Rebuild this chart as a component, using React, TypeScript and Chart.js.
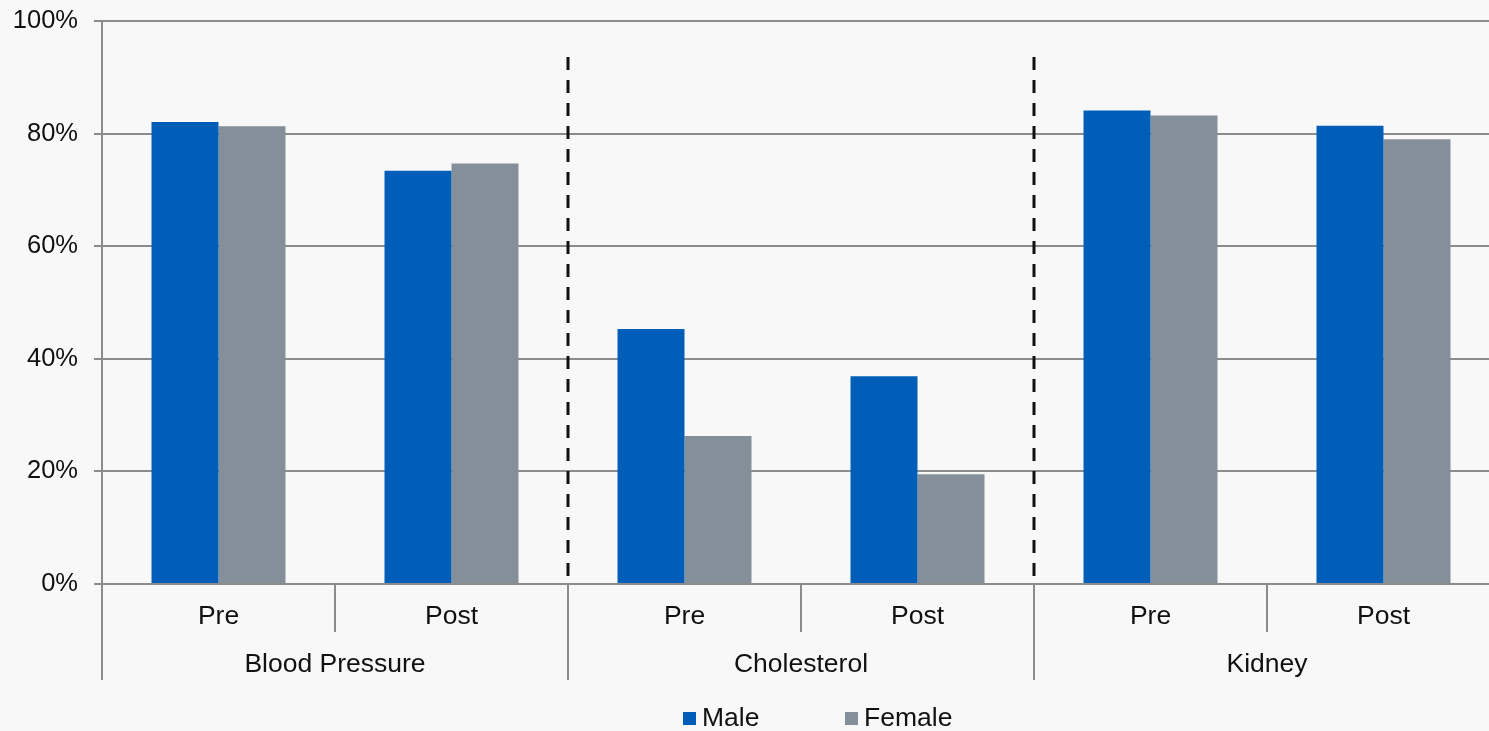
import React, { useEffect, useRef } from "react";
import { Chart, registerables } from "chart.js";

Chart.register(...registerables);

const categories = ["Pre", "Post", "Pre", "Post", "Pre", "Post"];
const groups = ["Blood Pressure", "Cholesterol", "Kidney"];
const maleValues = [82.05, 73.4, 45.3, 36.9, 84.1, 81.4];
const femaleValues = [81.3, 74.7, 26.3, 19.5, 83.2, 79.0];
const seriesNames = ["Male", "Female"];
const yTicks = [0, 20, 40, 60, 80, 100];

const FONT = "'Liberation Sans', Arial, sans-serif";
const TEXT = "#111111";
const AXIS = "#8c8c8c";
const BLUE = "#005EB8";
const GRAY = "#848F9A";

const overlayPlugin = {
  id: "overlay",
  afterDatasetsDraw(chart: any) {
    const { ctx, chartArea } = chart;
    const x = chart.scales.x;
    const n = categories.length;
    const px = (i: number) => x.getPixelForValue(i);
    const half = (px(1) - px(0)) / 2;
    const bottom = chartArea.bottom;
    ctx.save();

    // category labels
    ctx.fillStyle = TEXT;
    ctx.font = `26.5px ${FONT}`;
    ctx.textAlign = "center";
    ctx.textBaseline = "middle";
    categories.forEach((c, i) => ctx.fillText(c, px(i), bottom + 33));

    // group labels
    groups.forEach((g, gi) => {
      const cx = (px(gi * 2) + px(gi * 2 + 1)) / 2;
      ctx.fillText(g, cx, bottom + 81);
    });

    // separators
    ctx.strokeStyle = AXIS;
    ctx.lineWidth = 2;
    for (let i = 0; i < n; i++) {
      const bx = i === 0 ? chartArea.left : px(i - 1) + half;
      const isGroup = i % 2 === 0;
      ctx.beginPath();
      ctx.moveTo(bx, bottom);
      ctx.lineTo(bx, bottom + (isGroup ? 96 : 48));
      ctx.stroke();
    }

    // dashed group dividers
    const yS = chart.scales.y;
    ctx.strokeStyle = "#111111";
    ctx.lineWidth = 3;
    ctx.setLineDash([13, 10]);
    for (let gi = 1; gi < groups.length; gi++) {
      const bx = px(gi * 2 - 1) + half;
      ctx.beginPath();
      ctx.moveTo(bx, yS.getPixelForValue(93.6));
      ctx.lineTo(bx, bottom);
      ctx.stroke();
    }
    ctx.setLineDash([]);

    // legend
    const colors = [BLUE, GRAY];
    const itemX = [683, 845];
    const ly = 719;
    ctx.font = `26.5px ${FONT}`;
    ctx.textAlign = "left";
    seriesNames.forEach((s, i) => {
      ctx.fillStyle = colors[i];
      ctx.fillRect(itemX[i], ly - 7, 13, 13);
      ctx.fillStyle = TEXT;
      ctx.fillText(s, itemX[i] + 19, ly);
    });
    ctx.restore();
  },
};

export default function App() {
  const ref = useRef<HTMLCanvasElement | null>(null);
  useEffect(() => {
    if (!ref.current) return;
    const chart = new Chart(ref.current, {
      type: "bar",
      data: {
        labels: categories,
        datasets: [
          {
            label: seriesNames[0],
            data: maleValues,
            backgroundColor: BLUE,
            categoryPercentage: 0.575,
            barPercentage: 1,
          },
          {
            label: seriesNames[1],
            data: femaleValues,
            backgroundColor: GRAY,
            categoryPercentage: 0.575,
            barPercentage: 1,
          },
        ],
      },
      options: {
        responsive: false,
        animation: false,
        layout: { padding: { top: 21, right: 0, bottom: 147, left: 0 } },
        plugins: { legend: { display: false }, tooltip: { enabled: false } },
        scales: {
          x: { display: false },
          y: {
            min: 0,
            max: 100,
            afterFit(scale: any) {
              scale.width = 102;
              scale.paddingTop = 0;
              scale.paddingBottom = 0;
            },
            afterBuildTicks(scale: any) {
              scale.ticks = yTicks.map((v) => ({ value: v }));
            },
            ticks: {
              padding: 16,
              color: TEXT,
              font: { family: FONT, size: 25.5 },
              callback: (v: any) => `${v}%`,
            },
            grid: { color: AXIS, lineWidth: 2, tickLength: 8 },
            border: { display: true, color: AXIS, width: 2 },
          },
        },
      },
      plugins: [overlayPlugin],
    });
    return () => chart.destroy();
  }, []);
  return (
    <div
      style={{
        position: "fixed",
        left: 0,
        top: 0,
        width: 1489,
        height: 731,
        overflow: "hidden",
        background: "#f8f8f8",
      }}
    >
      <canvas ref={ref} width={1500} height={731} style={{ display: "block" }} />
    </div>
  );
}
